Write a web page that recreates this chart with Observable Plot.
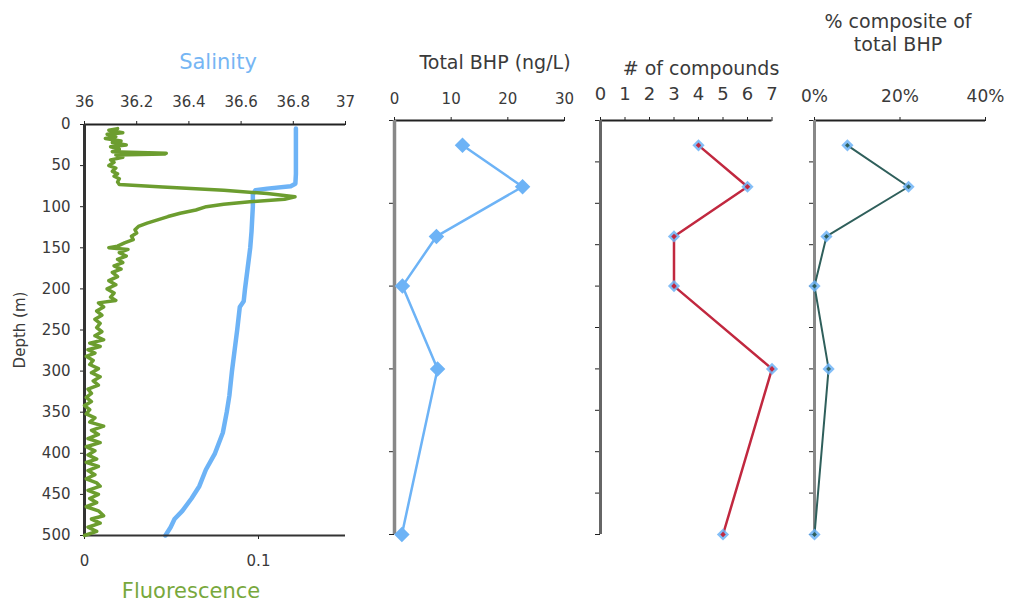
<!DOCTYPE html>
<html><head><meta charset="utf-8">
<script src="https://cdn.jsdelivr.net/npm/d3@7"></script>
<script src="https://cdn.jsdelivr.net/npm/@observablehq/plot@0.6"></script>
<style>
body{margin:0;background:#fff;}
#wrap{position:relative;width:1011px;height:602px;overflow:hidden;font-family:"DejaVu Sans",Verdana,sans-serif;color:#333;}
#wrap svg{position:absolute;top:0;background:transparent;}
.t{position:absolute;white-space:nowrap;transform:translate(-50%,-50%);line-height:1.2;text-align:center;}
</style></head><body><div id="wrap"></div>
<script>
// ---- discrete BHP sampling depths and values ----
const bhpDepth = [30, 80, 140, 200, 300, 500];
const totalBHP = [12, 22.6, 7.4, 1.4, 7.6, 1.3];
const nCompounds = [4, 6, 3, 3, 7, 5];
const pctComposite = [0.077, 0.22, 0.028, 0, 0.033, 0];

// ---- CTD profile: salinity ----
const salDepth = [5, 20, 40, 60, 72, 75, 78, 80, 85, 100, 130, 150, 175, 200, 215, 222, 250, 275, 300, 330, 350, 375, 400, 420, 440, 455, 470, 480, 490, 500];
const salinity = [36.81, 36.81, 36.81, 36.81, 36.808, 36.79, 36.70, 36.655, 36.645, 36.645, 36.64, 36.635, 36.625, 36.615, 36.61, 36.595, 36.585, 36.575, 36.565, 36.555, 36.545, 36.53, 36.50, 36.465, 36.44, 36.41, 36.375, 36.345, 36.33, 36.31];

// ---- CTD profile: fluorescence ----
const fluoDepth = [5, 7, 10, 12, 15, 17, 20, 22, 25, 27, 30, 33, 35, 36, 37, 40, 43, 46, 50, 53, 57, 60, 63, 66, 70, 73, 76, 80, 84, 88, 91, 94, 97, 100, 104, 108, 112, 116, 120, 124, 128, 132, 136, 140, 144, 148, 150, 152, 156, 160, 164, 168, 172, 176, 180, 185, 190, 195, 200, 205, 210, 214, 217, 222, 227, 232, 237, 242, 247, 252, 257, 262, 266, 270, 274, 278, 282, 287, 292, 297, 302, 307, 312, 317, 322, 327, 332, 337, 342, 347, 352, 357, 362, 367, 372, 377, 382, 387, 392, 397, 402, 407, 411, 416, 421, 426, 431, 436, 440, 445, 450, 455, 460, 465, 470, 476, 480, 485, 490, 495, 500];
const fluorescence = [0.019, 0.014, 0.022, 0.013, 0.018, 0.012, 0.021, 0.016, 0.024, 0.015, 0.020, 0.016, 0.047, 0.046, 0.018, 0.022, 0.015, 0.017, 0.014, 0.018, 0.016, 0.019, 0.017, 0.020, 0.019, 0.020, 0.045, 0.080, 0.105, 0.121, 0.115, 0.095, 0.080, 0.070, 0.064, 0.055, 0.048, 0.042, 0.036, 0.031, 0.029, 0.030, 0.027, 0.028, 0.023, 0.019, 0.014, 0.025, 0.020, 0.024, 0.019, 0.022, 0.017, 0.021, 0.016, 0.019, 0.014, 0.018, 0.013, 0.017, 0.015, 0.018, 0.008, 0.011, 0.007, 0.010, 0.006, 0.009, 0.007, 0.010, 0.006, 0.011, 0.003, 0.009, 0.002, 0.006, 0.001, 0.005, 0.003, 0.008, 0.004, 0.009, 0.005, 0.008, 0.002, 0.004, 0.001, 0.004, 0.000, 0.003, 0.001, 0.006, 0.003, 0.011, 0.004, 0.008, 0.002, 0.009, 0.001, 0.006, 0.002, 0.007, 0.001, 0.008, 0.002, 0.006, 0.001, 0.007, 0.009, 0.002, 0.008, 0.003, 0.007, 0.001, 0.008, 0.011, 0.004, 0.009, 0.002, 0.007, 0.000];

// ---- axis ticks ----
const salTicks = [36, 36.2, 36.4, 36.6, 36.8, 37];
const fluoTicks = [0, 0.1];
const depthTicks50 = d3.range(0, 501, 50);
const depthTicks100 = d3.range(0, 501, 100);
const bhpTicks = [0, 10, 20, 30];
const cmpTicks = [0, 1, 2, 3, 4, 5, 6, 7];
const pctTicks = [0, 0.2, 0.4];

const salRows = salDepth.map((d, i) => ({depth: d, v: salinity[i]}));
const fluoRows = fluoDepth.map((d, i) => ({depth: d, v: fluorescence[i]}));
const bhpRows = bhpDepth.map((d, i) => ({depth: d, bhp: totalBHP[i], n: nCompounds[i], pct: pctComposite[i]}));

const wrap = document.getElementById("wrap");
const FONT = "DejaVu Sans, Verdana, sans-serif";
const TXT = "#3a3a3a";
const BLUE = "#6db3f6";
const GREEN = "#6c9d2f";
const RED = "#c1283f";
const TEAL = "#2f5f5b";

function place(svg, left) { svg.style.left = left + "px"; wrap.appendChild(svg); }
function label(text, x, y, size, color) {
  const d = document.createElement("div");
  d.className = "t"; d.innerHTML = text;
  d.style.left = x + "px"; d.style.top = y + "px";
  d.style.fontSize = size + "px"; d.style.color = color;
  wrap.appendChild(d);
}

// Panel 1a: salinity (top axis) + depth axis
place(Plot.plot({
  width: 360, height: 602,
  marginLeft: 84, marginRight: 15, marginTop: 124, marginBottom: 67,
  style: {fontFamily: FONT, color: TXT, background: "transparent"},
  x: {domain: [36, 37]},
  y: {domain: [0, 500], reverse: true},
  marks: [
    Plot.axisX({anchor: "top", ticks: salTicks, tickFormat: d => String(+d.toFixed(1)), tickSize: 4, tickPadding: 14, fontSize: 15, label: null, stroke: "#222"}),
    Plot.axisY({anchor: "left", ticks: depthTicks50, tickFormat: d => String(d), tickSize: 4, tickPadding: 10, fontSize: 15, stroke: "#222",
      label: "Depth (m)", labelAnchor: "center", labelArrow: "none", labelOffset: 70}),
    Plot.ruleY([0], {stroke: "#222", strokeWidth: 1.8}),
    Plot.ruleX([36], {stroke: "#333", strokeWidth: 3}),
    Plot.line(salRows, {x: "v", y: "depth", stroke: BLUE, strokeWidth: 4.5})
  ]
}), 0);

// Panel 1b: fluorescence (bottom axis)
place(Plot.plot({
  width: 360, height: 602,
  marginLeft: 84, marginRight: 15, marginTop: 124, marginBottom: 67,
  style: {fontFamily: FONT, color: TXT, background: "transparent"},
  x: {domain: [0, 0.15]},
  y: {domain: [0, 500], reverse: true, axis: null},
  marks: [
    Plot.axisX({anchor: "bottom", ticks: fluoTicks, tickFormat: d => String(d), tickSize: 4, tickPadding: 16, fontSize: 15, label: null, stroke: "#222"}),
    Plot.ruleY([500], {stroke: "#333", strokeWidth: 2}),
    Plot.line(fluoRows, {x: "v", y: "depth", stroke: GREEN, strokeWidth: 3.5})
  ]
}), 0);

// Panel 2: total BHP
place(Plot.plot({
  width: 250, height: 602,
  marginLeft: 64, marginRight: 16, marginTop: 120, marginBottom: 68,
  style: {fontFamily: FONT, color: TXT, background: "transparent"},
  x: {domain: [0, 30]},
  y: {domain: [0, 500], reverse: true},
  marks: [
    Plot.axisX({anchor: "top", ticks: bhpTicks, tickFormat: d => String(d), tickSize: 4, tickPadding: 13, fontSize: 15, label: null, stroke: "#222"}),
    Plot.axisY({anchor: "left", ticks: depthTicks100, tickFormat: () => "", tickSize: 5, label: null, stroke: "#222"}),
    Plot.ruleY([0], {stroke: "#222", strokeWidth: 1.8}),
    Plot.ruleX([0], {stroke: "#888", strokeWidth: 3.5}),
    Plot.line(bhpRows, {x: "bhp", y: "depth", stroke: BLUE, strokeWidth: 2.5}),
    Plot.dot(bhpRows, {x: "bhp", y: "depth", symbol: "diamond2", r: 7, fill: BLUE})
  ]
}), 330);

// Panel 3: number of compounds
place(Plot.plot({
  width: 230, height: 602,
  marginLeft: 40, marginRight: 18.5, marginTop: 120, marginBottom: 68,
  style: {fontFamily: FONT, color: TXT, background: "transparent"},
  x: {domain: [0, 7]},
  y: {domain: [0, 500], reverse: true},
  marks: [
    Plot.axisX({anchor: "top", ticks: cmpTicks, tickFormat: d => String(d), tickSize: 4, tickPadding: 17, fontSize: 18, label: null, stroke: "#222"}),
    Plot.axisY({anchor: "left", ticks: depthTicks50, tickFormat: () => "", tickSize: 5, label: null, stroke: "#222"}),
    Plot.ruleY([0], {stroke: "#222", strokeWidth: 1.8}),
    Plot.ruleX([0], {stroke: "#666", strokeWidth: 3}),
    Plot.line(bhpRows, {x: "n", y: "depth", stroke: RED, strokeWidth: 2.5}),
    Plot.dot(bhpRows, {x: "n", y: "depth", symbol: "diamond2", r: 5.5, fill: BLUE, fillOpacity: 0.85}),
    Plot.dot(bhpRows, {x: "n", y: "depth", symbol: "diamond2", r: 2.5, fill: RED})
  ]
}), 560);

// Panel 4: % composite of total BHP
place(Plot.plot({
  width: 221, height: 602,
  marginLeft: 24, marginRight: 26, marginTop: 120, marginBottom: 68,
  style: {fontFamily: FONT, color: TXT, background: "transparent"},
  x: {domain: [0, 0.4]},
  y: {domain: [0, 500], reverse: true},
  marks: [
    Plot.axisX({anchor: "top", ticks: pctTicks, tickFormat: d => Math.round(d * 100) + "%", tickSize: 4, tickPadding: 15, fontSize: 17, label: null, stroke: "#222"}),
    Plot.axisY({anchor: "left", ticks: depthTicks50, tickFormat: () => "", tickSize: 5, label: null, stroke: "#222"}),
    Plot.ruleY([0], {stroke: "#222", strokeWidth: 1.8}),
    Plot.ruleX([0], {stroke: "#888", strokeWidth: 3}),
    Plot.line(bhpRows, {x: "pct", y: "depth", stroke: TEAL, strokeWidth: 2}),
    Plot.dot(bhpRows, {x: "pct", y: "depth", symbol: "diamond2", r: 5.5, fill: BLUE, fillOpacity: 0.85}),
    Plot.dot(bhpRows, {x: "pct", y: "depth", symbol: "diamond2", r: 2.2, fill: TEAL})
  ]
}), 790);

// Titles
label("Salinity", 218, 63, 21, "#76b6f4");
label("Fluorescence", 191, 592, 21, "#78a83c");
label("Total BHP (ng/L)", 495, 62, 19, TXT);
label("# of compounds", 701, 68, 19, TXT);
label("% composite of<br>total BHP", 898, 33, 19, TXT);
</script></body></html>
